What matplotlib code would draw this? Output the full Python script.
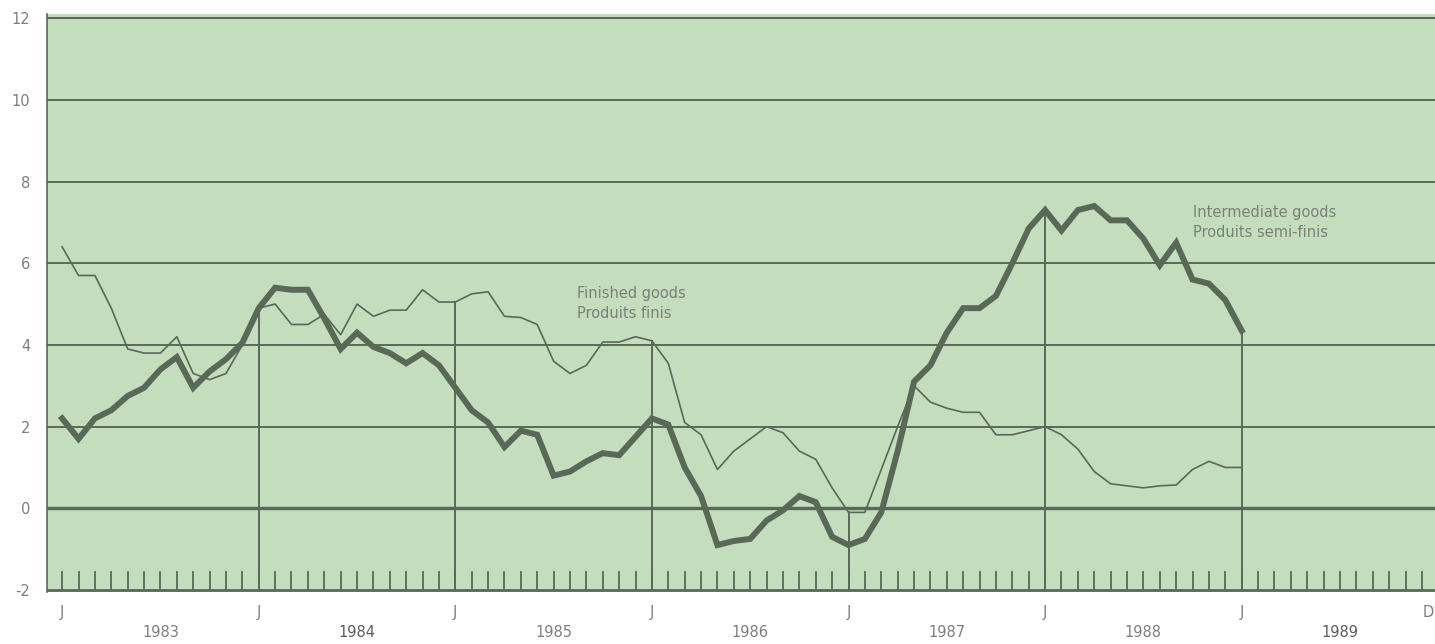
import numpy as np
import matplotlib
matplotlib.use("Agg")
import matplotlib.pyplot as plt

# monthly values, Jan 1983 .. Jan 1989 (month index 0..72)
finished = [6.4, 5.7, 5.7, 4.9, 3.9, 3.8, 3.8, 4.2, 3.3, 3.15, 3.3, 4.0,
            4.9, 5.0, 4.5, 4.5, 4.75, 4.25, 5.0, 4.7, 4.85, 4.85, 5.35, 5.05,
            5.05, 5.25, 5.3, 4.7, 4.67, 4.5, 3.6, 3.3, 3.5, 4.07, 4.07, 4.2,
            4.1, 3.55, 2.1, 1.8, 0.95, 1.4, 1.7, 2.0, 1.85, 1.4, 1.2, 0.5,
            -0.1, -0.1, 0.95, 2.0, 3.0, 2.6, 2.45, 2.35, 2.35, 1.8, 1.8, 1.9,
            2.0, 1.8, 1.45, 0.9, 0.6, 0.55, 0.5, 0.55, 0.57, 0.95, 1.15, 1.0,
            1.0]
intermediate = [2.2, 1.7, 2.2, 2.4, 2.75, 2.95, 3.4, 3.7, 2.95, 3.35, 3.65, 4.05,
                4.9, 5.4, 5.35, 5.35, 4.65, 3.9, 4.3, 3.95, 3.8, 3.55, 3.8, 3.5,
                2.95, 2.4, 2.1, 1.5, 1.9, 1.8, 0.8, 0.9, 1.15, 1.35, 1.3, 1.75,
                2.2, 2.05, 1.0, 0.3, -0.9, -0.8, -0.75, -0.3, -0.05, 0.3, 0.15, -0.7,
                -0.9, -0.75, -0.1, 1.4, 3.1, 3.5, 4.3, 4.9, 4.9, 5.2, 6.0, 6.85,
                7.3, 6.8, 7.3, 7.4, 7.05, 7.05, 6.6, 5.95, 6.5, 5.6, 5.5, 5.1,
                4.35]
years = ["1983", "1984", "1985", "1986", "1987", "1988", "1989"]
y_ticks = [12, 10, 8, 6, 4, 2, 0, -2]

months = np.arange(len(finished))
ink = "#5a6858"
bg = "#c3ddbd"
txt = "#7c807c"

fig = plt.figure(figsize=(14.35, 6.44), dpi=100)
ax = fig.add_axes([0.0328, 0.0807, 0.9672, 0.8975])
ax.set_facecolor(bg)
ax.set_xlim(-0.92, 83.8)
ax.set_ylim(-2.05, 12.1)

# horizontal rules
for v in y_ticks:
    if v == -2:
        continue
    ax.axhline(v, color=ink, lw=2.4 if v == 0 else 1.4, zorder=1)
ax.axhline(-2, color=ink, lw=2.0, zorder=1)
ax.axhline(12.0, color=ink, lw=1.4, zorder=1)

# vertical January lines up to the curves
for k in range(12, 73, 12):
    top = max(finished[k], intermediate[k])
    ax.plot([k, k], [-2, top], color=ink, lw=1.4, zorder=1)

# monthly ticks
for k in range(0, 84):
    ax.plot([k, k], [-2, -1.55], color=ink, lw=1.3, zorder=1)

ax.plot(months, finished, color=ink, lw=1.2, zorder=3)
ax.plot(months, intermediate, color=ink, lw=4.3, zorder=4,
        solid_joinstyle="miter")

ax.text(31.4, 5.27, "Finished goods", color=txt, fontsize=10.5, va="center")
ax.text(31.4, 4.78, "Produits finis", color=txt, fontsize=10.5, va="center")
ax.text(69.0, 7.25, "Intermediate goods", color=txt, fontsize=10.5, va="center")
ax.text(69.0, 6.76, "Produits semi-finis", color=txt, fontsize=10.5, va="center")

for s in ["top", "right", "bottom"]:
    ax.spines[s].set_visible(False)
ax.spines["left"].set_color(ink)
ax.spines["left"].set_linewidth(1.2)
ax.set_xticks([])
ax.set_yticks(y_ticks)
ax.set_yticklabels([str(v) for v in y_ticks], color=txt, fontsize=10.5)
ax.tick_params(axis="y", length=0, pad=12)

# month / year labels under the axis
for i, yr in enumerate(years):
    ax.text(i * 12, -2.55, "J", color=txt, fontsize=10.5, ha="center", va="center")
    dark = yr in ("1984", "1989")
    ax.text(i * 12 + 6, -3.05, yr, color="#5a5e5a" if dark else txt,
            fontsize=10.5, ha="center", va="center")
ax.text(83.4, -2.55, "D", color=txt, fontsize=10.5, ha="center", va="center")

fig.savefig("out.png", dpi=100, facecolor="white")
